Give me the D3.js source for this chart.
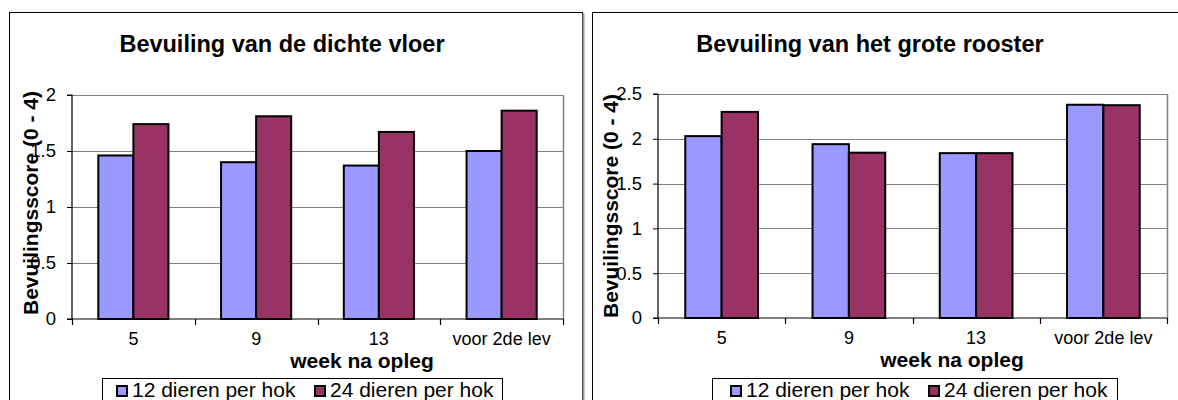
<!DOCTYPE html>
<html>
<head>
<meta charset="utf-8">
<script src="https://cdn.jsdelivr.net/npm/d3@7"></script>
<style>
html,body{margin:0;padding:0;background:#fff;}
svg{display:block;font-family:"Liberation Sans",Arial,sans-serif;}
</style>
</head>
<body>
<svg id="chart" width="1178" height="400"></svg>
<script>
// ---- data ----
const categories = ["5", "9", "13", "voor 2de lev"];
const seriesNames = ["12 dieren per hok", "24 dieren per hok"];
const seriesColors = ["#9999FF", "#993366"];
const vloer12 = [1.46, 1.40, 1.37, 1.50];
const vloer24 = [1.74, 1.81, 1.67, 1.86];
const rooster12 = [2.03, 1.94, 1.84, 2.38];
const rooster24 = [2.30, 1.845, 1.84, 2.375];
const vloerTicks = [0, 0.5, 1, 1.5, 2];
const roosterTicks = [0, 0.5, 1, 1.5, 2, 2.5];
const titles = ["Bevuiling van de dichte vloer", "Bevuiling van het grote rooster"];
const xTitle = "week na opleg";
const yTitle = "Bevuilingsscore (0 - 4)";

const svg = d3.select("#chart");

function panel(o) {
  const g = svg.append("g");
  // outer frame
  g.append("rect").attr("x", o.fx).attr("y", o.fy).attr("width", o.fw).attr("height", 420)
    .attr("fill", "#fff").attr("stroke", "#000").attr("stroke-width", 1);
  if (o.shadow) {
    g.append("line").attr("x1", o.fx + o.fw + 1).attr("x2", o.fx + o.fw + 1)
      .attr("y1", o.fy + 1).attr("y2", 400).attr("stroke", "#999").attr("stroke-width", 2);
  }

  const x = d3.scaleBand().domain(categories).range([o.x0, o.x1]);
  const bw = x.bandwidth();
  const xs = d3.scaleBand().domain(seriesNames).range([bw * 0.2143, bw * 0.7857]);
  const y = d3.scaleLinear().domain([0, o.ticks[o.ticks.length - 1]]).range([o.y0, o.yTop]);

  // gridlines
  g.append("g").selectAll("line").data(o.ticks.slice(1)).join("line")
    .attr("x1", o.x0).attr("x2", o.x1)
    .attr("y1", d => Math.round(y(d)) + 0.5).attr("y2", d => Math.round(y(d)) + 0.5)
    .attr("stroke", "#808080").attr("stroke-width", 1.2);
  // right border of plot
  g.append("line").attr("x1", o.x1 + 0.5).attr("x2", o.x1 + 0.5)
    .attr("y1", Math.round(y(o.ticks[o.ticks.length - 1]))).attr("y2", o.y0)
    .attr("stroke", "#808080").attr("stroke-width", 1.5);

  // bars
  const rows = categories.map((c, i) => ({ c, vals: [o.a[i], o.b[i]] }));
  g.append("g").selectAll("g").data(rows).join("g")
    .attr("transform", d => `translate(${x(d.c)},0)`)
    .selectAll("rect").data(d => d.vals.map((v, j) => ({ v, s: seriesNames[j], j })))
    .join("rect")
    .attr("x", d => xs(d.s)).attr("width", xs.bandwidth())
    .attr("y", d => y(d.v)).attr("height", d => o.y0 - y(d.v))
    .attr("fill", d => seriesColors[d.j]).attr("stroke", "#000").attr("stroke-width", 2);

  // y axis
  const ya = d3.axisLeft(y).tickValues(o.ticks).tickSize(5).tickPadding(11)
    .tickFormat(d => String(d));
  const yg = g.append("g").attr("transform", `translate(${o.x0},0)`).call(ya);
  yg.select(".domain").attr("stroke", "#000").attr("stroke-width", 1.2).attr("d", `M-5,${o.y0}H0V${y(o.ticks[o.ticks.length-1])}H-5`);
  yg.selectAll(".tick line").attr("stroke", "#000");
  yg.selectAll("text").attr("font-size", 18.5).attr("fill", "#000").attr("font-family", "Liberation Sans, Arial, sans-serif");

  // x axis
  const xa = d3.axisBottom(x).tickSize(0).tickPadding(13);
  const xg = g.append("g").attr("transform", `translate(0,${o.y0})`).call(xa);
  xg.select(".domain").attr("stroke", "#000").attr("stroke-width", 1.2).attr("d", `M${o.x0},0H${o.x1}`);
  xg.selectAll("text").attr("font-size", 18).attr("fill", "#000").attr("font-family", "Liberation Sans, Arial, sans-serif");
  // x tick marks at category boundaries
  const bounds = categories.map(c => x(c)).concat([o.x1]);
  xg.selectAll(".bt").data(bounds).join("line").attr("class", "bt")
    .attr("x1", d => Math.round(d) + 0.5).attr("x2", d => Math.round(d) + 0.5)
    .attr("y1", 0).attr("y2", 6).attr("stroke", "#000").attr("stroke-width", 1.2);

  // title
  g.append("text").attr("x", o.titleX).attr("y", 52).attr("text-anchor", "middle")
    .attr("font-weight", "bold").attr("font-size", 23.5).text(o.title);
  // x title
  g.append("text").attr("x", o.xtX).attr("y", o.xtY).attr("text-anchor", "middle")
    .attr("font-weight", "bold").attr("font-size", 21).text(xTitle);
  // y title
  g.append("text").attr("transform", `translate(${o.ytX},${o.ytY}) rotate(-90)`)
    .attr("text-anchor", "middle").attr("font-weight", "bold").attr("font-size", 21).text(yTitle);

  // legend
  const lg = g.append("g");
  lg.append("rect").attr("x", o.lx + 0.5).attr("y", 378.5).attr("width", o.lw).attr("height", 30)
    .attr("fill", "#fff").attr("stroke", "#000").attr("stroke-width", 1);
  seriesNames.forEach((s, j) => {
    lg.append("rect").attr("x", o.lm[j]).attr("y", 386).attr("width", 10).attr("height", 10)
      .attr("fill", seriesColors[j]).attr("stroke", "#000").attr("stroke-width", 2);
    lg.append("text").attr("x", o.lm[j] + 15).attr("y", 397).attr("font-size", 21).text(s);
  });
}

panel({
  fx: 9.5, fy: 12.5, fw: 573, shadow: true,
  x0: 72, x1: 563, y0: 319, yTop: 95,
  ticks: vloerTicks, a: vloer12, b: vloer24,
  title: titles[0], titleX: 282,
  xtX: 362, xtY: 368, ytX: 38, ytY: 203,
  lx: 102, lw: 400, lm: [117, 315]
});
panel({
  fx: 592.5, fy: 12.5, fw: 600, shadow: false,
  x0: 658, x1: 1167, y0: 318, yTop: 94,
  ticks: roosterTicks, a: rooster12, b: rooster24,
  title: titles[1], titleX: 870,
  xtX: 952, xtY: 367, ytX: 618, ytY: 206,
  lx: 712, lw: 405, lm: [731, 929]
});
</script>
</body>
</html>
